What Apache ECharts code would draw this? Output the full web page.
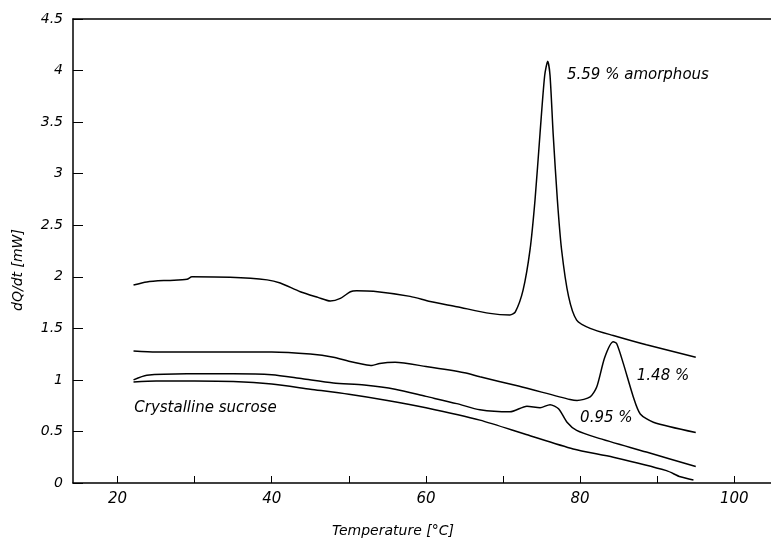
<!DOCTYPE html>
<html>
<head>
<meta charset="utf-8">
<script src="https://cdn.jsdelivr.net/npm/echarts@6/dist/echarts.min.js"></script>
<style>html,body{margin:0;padding:0;background:#fff}#c{width:771px;height:543px}</style>
</head>
<body>
<div id="c"></div>
<script>
// ---- data (temperature °C, dQ/dt mW) ----
const amorphous559 = [
  [22.07,1.92],[23.8,1.95],[26.5,1.965],[29.0,1.975],[29.65,2.00],[34.6,1.995],[39.4,1.97],
  [41.1,1.94],[43.7,1.855],[46.0,1.80],[47.6,1.765],[48.9,1.79],[50.2,1.855],[51.0,1.865],
  [53.2,1.86],[57.95,1.81],[60.55,1.76],[64.0,1.71],[68.3,1.645],[70.9,1.63],[71.6,1.66],
  [72.6,1.87],[73.5,2.26],[74.15,2.745],[74.8,3.39],[75.4,3.95],[75.8,4.09],[76.1,3.95],
  [76.5,3.39],[77.05,2.745],[77.6,2.26],[78.5,1.81],[79.55,1.58],[81.3,1.50],[84.3,1.43],
  [88.6,1.34],[95.0,1.22]
];
const amorphous148 = [
  [22.07,1.28],[25,1.27],[30,1.27],[40,1.27],[45,1.25],[48,1.22],[50,1.18],[52,1.15],
  [53,1.14],[54,1.16],[56,1.17],[60,1.13],[65,1.07],[67.0,1.03],[72,0.94],[78.7,0.81],
  [79.6,0.80],[81.3,0.835],[82.15,0.93],[83.2,1.22],[84.3,1.37],[84.75,1.35],[85.6,1.16],
  [86.9,0.835],[87.8,0.67],[89.5,0.59],[95.0,0.49]
];
const amorphous095 = [
  [22.07,1.00],[23.8,1.045],[29.0,1.06],[35,1.06],[40,1.05],[44,1.01],[48,0.97],[52,0.95],
  [56,0.91],[60,0.84],[64,0.77],[67.0,0.71],[70.9,0.69],[73.1,0.745],[74.8,0.73],[76.1,0.76],
  [77.2,0.72],[78.3,0.59],[79.55,0.51],[82.15,0.44],[88.6,0.30],[95.0,0.16]
];
const crystalline = [
  [22.07,0.98],[25,0.99],[30,0.99],[35,0.985],[40,0.96],[45,0.91],[50,0.86],[55,0.80],
  [60,0.73],[67.0,0.61],[73,0.47],[79.1,0.33],[84.3,0.25],[91.2,0.12],[93.0,0.06],[94.7,0.03]
];
const annotations = [
  {text:'5.59 % amorphous', at:[78.3,3.96]},
  {text:'1.48 %', at:[87.35,1.04]},
  {text:'0.95 %', at:[80.0,0.625]},
  {text:'Crystalline sucrose', at:[22.17,0.73]}
];
const xTicks = [20,30,40,50,60,70,80,90,100];
const xLabels = [20,40,60,80,100];
const xLabelTitle = 'Temperature [°C]';
const yLabelTitle = 'dQ/dt [mW]';

const FONT = 'DejaVu Sans';
const chart = echarts.init(document.getElementById('c'), null, {renderer:'canvas'});
function line(data){
  return {
    type:'line', data:data, symbol:'none', smooth:0.25, silent:true,
    lineStyle:{color:'#000', width:1.5}, xAxisIndex:0, yAxisIndex:0
  };
}
const series = [line(amorphous559), line(amorphous148), line(amorphous095), line(crystalline)];
series[0].markPoint = {
  symbol:'circle', symbolSize:0, silent:true,
  data: annotations.map(a => ({coord:a.at, value:a.text})),
  label:{show:true, position:'right', distance:0, formatter:p=>p.value, color:'#000',
         fontFamily:FONT, fontStyle:'italic', fontSize:15}
};
chart.setOption({
  animation:false,
  grid:{left:73, right:0, top:19, bottom:60},
  xAxis:[{
    type:'value', min:14.22, max:104.76, position:'bottom',
    axisLine:{show:true, onZero:false, lineStyle:{color:'#000', width:1.5}},
    axisTick:{show:true, inside:true, length:7, customValues:xTicks, lineStyle:{color:'#000', width:1}},
    axisLabel:{customValues:xLabels, color:'#000', fontFamily:FONT, fontStyle:'italic', fontSize:15, margin:9},
    splitLine:{show:false}
  },{
    type:'value', min:14.22, max:104.76, position:'top',
    axisLine:{show:true, onZero:false, lineStyle:{color:'#000', width:1.5}},
    axisTick:{show:false}, axisLabel:{show:false}, splitLine:{show:false}
  }],
  yAxis:{
    type:'value', min:0, max:4.5, interval:0.5,
    axisLine:{show:true, lineStyle:{color:'#000', width:1.5}},
    axisTick:{show:true, inside:true, length:10, lineStyle:{color:'#000', width:1}},
    axisLabel:{color:'#000', fontFamily:FONT, fontStyle:'italic', fontSize:14, margin:10},
    splitLine:{show:false}
  },
  graphic:[
    {type:'text', x:393, y:531, style:{text:xLabelTitle, textAlign:'center', textVerticalAlign:'middle',
      font:'italic 14px "DejaVu Sans"', fill:'#000'}},
    {type:'text', x:18, y:270, rotation:Math.PI/2, style:{text:yLabelTitle, textAlign:'center', textVerticalAlign:'middle',
      font:'italic 14px "DejaVu Sans"', fill:'#000'}}
  ],
  series:series
});
</script>
</body>
</html>
